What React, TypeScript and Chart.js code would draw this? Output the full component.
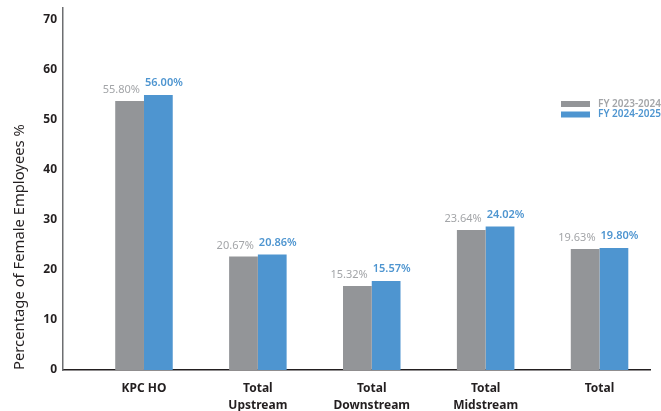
import React, { useEffect, useRef } from "react";
import { Chart, registerables } from "chart.js";

Chart.register(...registerables);

const categories: (string | string[])[] = [
  "KPC HO",
  ["Total", "Upstream"],
  ["Total", "Downstream"],
  ["Total", "Midstream"],
  "Total",
];
const seriesNames = ["FY 2023-2024", "FY 2024-2025"];
const fy2324 = [53.8, 22.7, 16.8, 28.0, 24.2];
const fy2425 = [55.0, 23.1, 17.8, 28.7, 24.4];
const labels2324 = ["55.80%", "20.67%", "15.32%", "23.64%", "19.63%"];
const labels2425 = ["56.00%", "20.86%", "15.57%", "24.02%", "19.80%"];
const yTicks = [0, 10, 20, 30, 40, 50, 60, 70];

const GRAY = "#939598";
const BLUE = "#4e95d0";
const GRAY_TEXT = "#a3a5a8";
const FONT = "'Noto Sans', 'Open Sans', sans-serif";

export default function App() {
  const ref = useRef<HTMLCanvasElement | null>(null);

  useEffect(() => {
    if (!ref.current) return;
    const valueLabels = [labels2324, labels2425];

    const labelPlugin = {
      id: "valueLabels",
      afterDatasetsDraw(chart: any) {
        const ctx = chart.ctx;
        ctx.save();
        chart.data.datasets.forEach((ds: any, di: number) => {
          const meta = chart.getDatasetMeta(di);
          meta.data.forEach((el: any, i: number) => {
            const txt = valueLabels[di][i];
            ctx.textBaseline = "middle";
            if (di === 0) {
              ctx.font = `400 11px ${FONT}`;
              ctx.fillStyle = GRAY_TEXT;
              ctx.textAlign = "right";
              ctx.fillText(txt, el.x + el.width / 2 - 4, el.y - 11);
            } else {
              ctx.font = `600 11px ${FONT}`;
              ctx.fillStyle = BLUE;
              ctx.textAlign = "left";
              ctx.fillText(txt, el.x - el.width / 2 + 1, el.y - 12);
            }
          });
        });
        ctx.restore();
      },
    };

    const legendPlugin = {
      id: "cornerLegend",
      afterDraw(chart: any) {
        const ctx = chart.ctx;
        const area = chart.chartArea;
        const x0 = area.right - 89;
        const y0 = area.top + 93;
        ctx.save();
        chart.data.datasets.forEach((ds: any, di: number) => {
          const y = y0 + di * 10.5;
          ctx.fillStyle = ds.backgroundColor;
          ctx.fillRect(x0, y, 29, 6);
          ctx.font = `600 10px ${FONT}`;
          ctx.fillStyle = di === 0 ? GRAY_TEXT : BLUE;
          ctx.textAlign = "left";
          ctx.textBaseline = "middle";
          ctx.fillText(ds.label, x0 + 37, y + 3);
        });
        ctx.restore();
      },
    };

    const chart = new Chart(ref.current, {
      type: "bar",
      data: {
        datasets: [
          {
            label: seriesNames[0],
            data: fy2324.map((v, i) => ({ x: i, y: v })),
            backgroundColor: GRAY,
          },
          {
            label: seriesNames[1],
            data: fy2425.map((v, i) => ({ x: i, y: v })),
            backgroundColor: BLUE,
          },
        ],
      },
      options: {
        animation: false,
        responsive: false,
        events: [],
        layout: { padding: { left: 0, right: 11, top: 8, bottom: 0 } },
        datasets: {
          bar: { barPercentage: 1, categoryPercentage: 0.505 },
        } as any,
        plugins: {
          legend: { display: false },
          tooltip: { enabled: false },
        },
        scales: {
          x: {
            type: "linear",
            min: -0.711,
            max: 4.443,
            offset: false,
            grid: { display: false, drawTicks: false },
            border: { display: true, color: "#231f20", width: 1.5 },
            afterBuildTicks: (s: any) => {
              s.ticks = categories.map((_, i) => ({ value: i }));
            },
            afterFit: (s: any) => {
              s.height = 41;
              s.paddingLeft = 0;
              s.paddingRight = 0;
            },
            ticks: {
              autoSkip: false,
              maxRotation: 0,
              padding: 10,
              color: "#231f20",
              font: { family: FONT, size: 12, weight: "bold", lineHeight: 1.4 },
              callback: (v: any) => categories[Math.round(Number(v))] ?? "",
            },
          },
          y: {
            min: 0,
            max: 72.4,
            grid: { display: false, drawTicks: false },
            border: { display: true, color: "#6d6e71", width: 1.5 },
            afterBuildTicks: (s: any) => {
              s.ticks = yTicks.map((v) => ({ value: v }));
            },
            afterFit: (s: any) => {
              s.width = 63;
              s.paddingTop = 0;
              s.paddingBottom = 0;
            },
            ticks: {
              padding: 6,
              color: "#231f20",
              font: { family: FONT, size: 12, weight: "bold" },
            },
            title: {
              display: true,
              text: "Percentage of Female Employees %",
              align: "start",
              color: "#231f20",
              padding: { top: 11, bottom: 0 },
              font: { family: FONT, size: 14.8, weight: "normal" },
            },
          },
        },
      },
      plugins: [labelPlugin, legendPlugin],
    });
    return () => chart.destroy();
  }, []);

  return (
    <div style={{ position: "absolute", left: 0, top: 0, width: 661, height: 411, background: "#fff" }}>
      <canvas ref={ref} width={661} height={411} style={{ display: "block" }} />
    </div>
  );
}
